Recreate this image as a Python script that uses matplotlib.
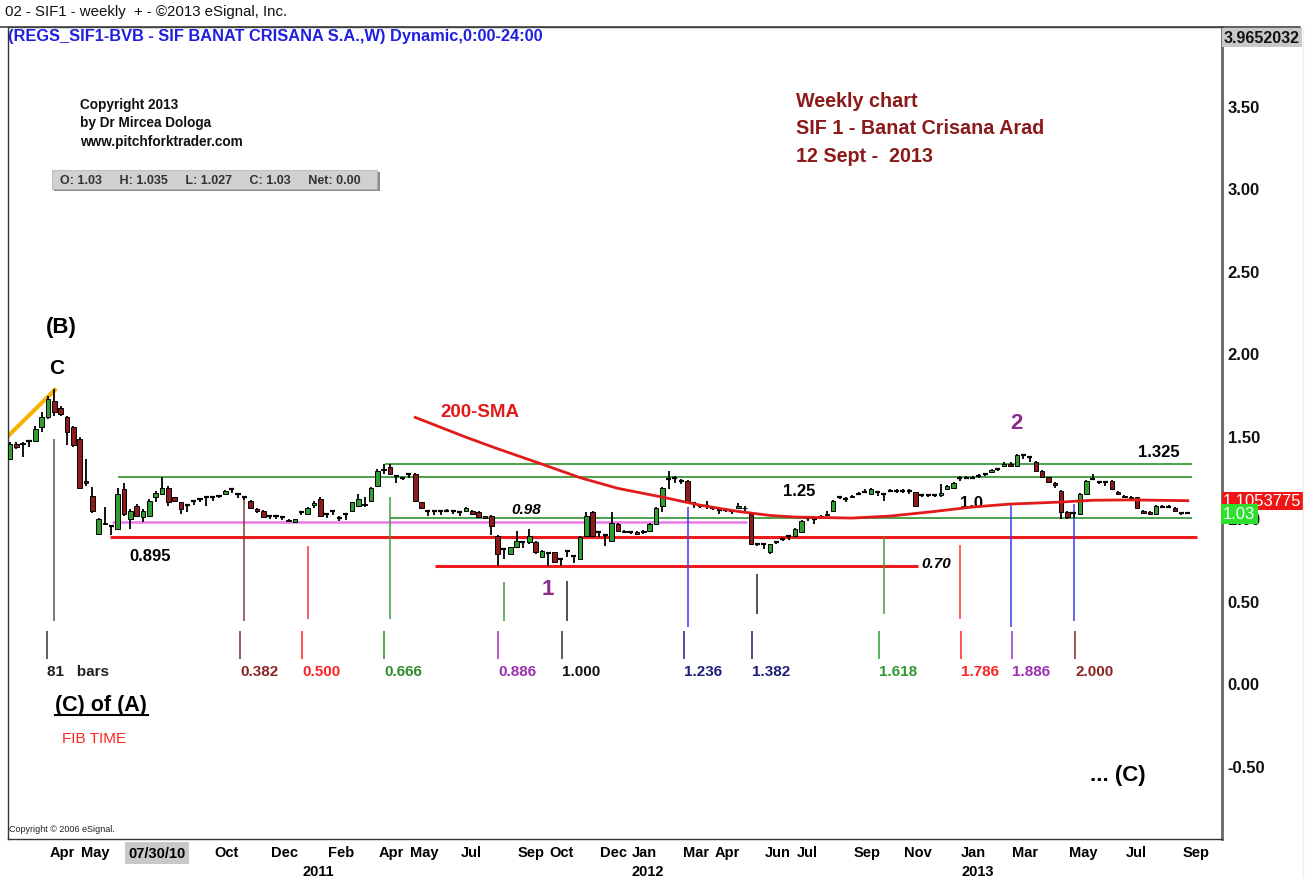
import matplotlib
matplotlib.use('Agg')
import matplotlib.pyplot as plt
import numpy as np
import pandas as pd
from matplotlib.patches import Rectangle
from matplotlib.lines import Line2D

plt.rcParams['font.family'] = ['Liberation Sans', 'DejaVu Sans']

# ---------------- data ----------------
first_week = '2010-02-19'   # weekly bars, week ending Friday
opens = [1.357,1.45,1.455,1.465,1.468,1.549,1.61,1.71,1.67,1.61,1.55,1.48,1.225,1.135,0.903,0.97,0.95,0.933,1.175,0.994,
         1.075,1.004,1.014,1.125,1.145,1.185,1.125,1.095,1.08,1.105,1.115,1.125,1.125,1.135,1.145,1.175,1.145,1.125,1.105,1.054,
         1.044,1.014,1.014,1.004,0.99,0.974,1.034,1.024,1.08,1.115,1.024,1.044,1.0,1.024,1.044,1.074,1.085,1.105,1.196,1.29,
         1.307,1.255,1.245,1.265,1.266,1.095,1.04,1.04,1.04,1.045,1.04,1.034,1.044,1.044,1.034,1.01,1.014,0.893,0.81,0.782,
         0.822,0.852,0.852,0.852,0.762,0.79,0.792,0.75,0.80,0.77,0.751,0.893,1.034,0.913,0.90,0.862,0.963,0.923,0.913,0.915,
         0.913,0.923,0.963,1.074,1.236,1.24,1.225,1.225,1.09,1.075,1.075,1.064,1.05,1.05,1.04,1.064,1.064,1.024,0.845,0.84,
         0.792,0.855,0.872,0.89,0.893,0.913,1.0,0.995,1.005,1.02,1.044,1.125,1.115,1.13,1.145,1.16,1.145,1.155,1.145,1.165,
         1.165,1.165,1.165,1.155,1.14,1.14,1.14,1.14,1.175,1.185,1.24,1.245,1.245,1.255,1.265,1.28,1.296,1.316,1.33,1.313,
         1.38,1.37,1.337,1.286,1.246,1.21,1.165,1.034,1.03,1.024,1.145,1.236,1.22,1.22,1.226,1.16,1.135,1.125,1.125,1.04,
         1.034,1.024,1.07,1.07,1.064,1.03,1.03]
highs = [1.46,1.46,1.46,1.47,1.56,1.64,1.74,1.78,1.68,1.62,1.56,1.49,1.36,1.19,1.0,1.065,0.955,1.185,1.215,1.055,
         1.085,1.055,1.115,1.165,1.246,1.195,1.13,1.10,1.085,1.11,1.12,1.13,1.13,1.14,1.17,1.185,1.15,1.135,1.11,1.06,
         1.05,1.02,1.02,1.01,0.995,0.995,1.04,1.07,1.105,1.125,1.03,1.05,1.014,1.03,1.10,1.145,1.13,1.19,1.30,1.33,
         1.33,1.26,1.25,1.27,1.275,1.10,1.045,1.045,1.045,1.055,1.045,1.04,1.07,1.05,1.04,1.015,1.02,0.90,0.815,0.825,
         0.923,0.86,0.933,0.86,0.805,0.795,0.795,0.755,0.805,0.775,0.89,1.034,1.044,0.92,0.905,1.034,0.97,0.925,0.92,0.92,
         0.93,0.97,1.07,1.19,1.286,1.256,1.236,1.23,1.095,1.08,1.105,1.07,1.055,1.055,1.045,1.09,1.075,1.03,0.85,0.845,
         0.845,0.862,0.88,0.90,0.94,0.99,1.01,1.004,1.02,1.04,1.11,1.135,1.125,1.14,1.155,1.175,1.18,1.16,1.15,1.175,
         1.175,1.175,1.175,1.16,1.145,1.145,1.145,1.205,1.20,1.22,1.256,1.256,1.256,1.266,1.276,1.296,1.306,1.337,1.34,1.39,
         1.387,1.377,1.345,1.29,1.25,1.216,1.17,1.04,1.034,1.15,1.23,1.266,1.226,1.226,1.23,1.165,1.14,1.135,1.13,1.05,
         1.04,1.08,1.08,1.08,1.07,1.035,1.035]
lows = [1.35,1.42,1.37,1.43,1.46,1.52,1.60,1.62,1.62,1.44,1.43,1.18,1.195,1.03,0.895,0.955,0.895,0.93,1.015,0.933,
        1.004,0.974,1.01,1.10,1.14,1.075,1.10,1.024,1.035,1.08,1.095,1.075,1.105,1.12,1.14,1.15,1.12,1.11,1.06,1.03,
        1.0,0.995,0.995,0.99,0.975,0.97,1.02,1.02,1.064,1.005,1.0,1.02,0.98,0.99,1.04,1.07,1.07,1.10,1.19,1.27,
        1.26,1.215,1.23,1.24,1.10,1.06,1.01,1.02,1.02,1.035,1.024,1.014,1.04,1.02,1.0,0.995,0.90,0.71,0.75,0.78,
        0.82,0.82,0.845,0.785,0.755,0.71,0.725,0.71,0.762,0.73,0.745,0.89,0.89,0.883,0.832,0.855,0.92,0.91,0.905,0.90,
        0.905,0.92,0.96,1.034,1.175,1.215,1.205,1.09,1.064,1.06,1.054,1.05,1.024,1.034,1.024,1.06,1.04,0.835,0.832,0.812,
        0.785,0.842,0.86,0.87,0.885,0.91,0.98,0.963,1.0,1.015,1.04,1.115,1.10,1.12,1.14,1.155,1.14,1.135,1.105,1.155,
        1.15,1.15,1.145,1.07,1.125,1.125,1.125,1.125,1.17,1.18,1.225,1.236,1.236,1.245,1.255,1.276,1.285,1.31,1.31,1.31,
        1.357,1.337,1.28,1.24,1.21,1.185,0.994,0.995,1.0,1.02,1.14,1.23,1.205,1.196,1.17,1.14,1.12,1.11,1.06,1.024,
        1.02,1.02,1.06,1.06,1.035,1.02,1.027]
closes = [1.448,1.43,1.45,1.465,1.539,1.61,1.72,1.64,1.63,1.52,1.44,1.185,1.21,1.044,0.994,0.962,0.95,1.145,1.024,1.044,
          1.014,1.044,1.105,1.15,1.185,1.095,1.105,1.054,1.08,1.105,1.115,1.125,1.125,1.135,1.165,1.175,1.145,1.125,1.064,1.04,
          1.004,1.014,1.014,1.004,0.984,0.994,1.034,1.064,1.09,1.014,1.024,1.044,1.0,1.024,1.095,1.115,1.08,1.185,1.286,1.30,
          1.266,1.255,1.245,1.265,1.105,1.064,1.04,1.04,1.04,1.045,1.04,1.034,1.064,1.024,1.004,1.0,0.953,0.782,0.81,0.822,
          0.862,0.852,0.893,0.792,0.802,0.79,0.731,0.75,0.80,0.77,0.883,1.014,0.893,0.913,0.90,0.973,0.923,0.913,0.913,0.905,
          0.923,0.963,1.064,1.185,1.236,1.24,1.225,1.095,1.09,1.075,1.075,1.064,1.05,1.05,1.04,1.075,1.06,0.842,0.845,0.84,
          0.842,0.855,0.872,0.89,0.933,0.983,1.0,0.995,1.014,1.026,1.105,1.125,1.115,1.135,1.145,1.16,1.175,1.155,1.145,1.165,
          1.165,1.165,1.165,1.075,1.14,1.14,1.14,1.15,1.195,1.215,1.24,1.245,1.245,1.255,1.265,1.29,1.296,1.33,1.316,1.381,
          1.38,1.37,1.286,1.246,1.216,1.20,1.034,1.004,1.03,1.145,1.226,1.236,1.22,1.22,1.175,1.145,1.13,1.12,1.064,1.03,
          1.024,1.074,1.07,1.07,1.04,1.03,1.03]

# 200-week SMA read at selected bars
sma_bars = [64, 68, 72, 77, 84, 90, 96, 103, 109, 115, 120, 124, 133, 139, 146, 152, 158, 166, 171, 177, 186]
sma_vals = [1.61, 1.55, 1.49, 1.42, 1.327, 1.245, 1.18, 1.127, 1.078, 1.04, 1.016, 1.006, 1.0, 1.012, 1.04, 1.067,
            1.085, 1.097, 1.108, 1.11, 1.1053775]

# horizontal price levels
level_prices = [1.248, 1.327, 1.003, 0.978, 0.887, 0.707]
level_from = [17, 59.2, 60, 16.1, 15.8, 67.1]
level_to = [186.6, 186.6, 186.6, 116.4, 187.4, 143.4]
level_colors = ['#3E9B3E', '#3E9B3E', '#3E9B3E', '#E87BE8', '#EE1C1C', '#EE1C1C']
level_widths = [1.3, 1.3, 1.3, 1.8, 2.2, 2.2]

# Fibonacci time
fib_labels = ['81   bars', '0.382', '0.500', '0.666', '0.886', '1.000', '1.236', '1.382', '1.618', '1.786', '1.886', '2.000']
fib_line_bar = [7, 37, 47, 60, 78, 88, 107, 118, 138, 150, 158, 168]
fib_line_top = [1.48, 1.13, 0.83, 1.13, 0.61, 0.62, 1.07, 0.66, 0.885, 0.835, 1.085, 1.085]
fib_line_bottom = [0.376, 0.376, 0.388, 0.388, 0.376, 0.376, 0.339, 0.418, 0.418, 0.388, 0.339, 0.376]
fib_line_colors = ['#555555', '#8B3A3A', '#FF3333', '#3E9B3E', '#3E9B3E', '#222222', '#3A3AEE', '#222222',
                   '#3E9B3E', '#FF3333', '#3A3AEE', '#3A3AEE']
fib_tick_bar = [5.9, 36.3, 46.1, 59.1, 77.1, 87.2, 106.4, 117.2, 137.2, 150.2, 158.2, 168.2]
fib_text_colors = ['#222222', '#8B2323', '#FF2222', '#2E8B2E', '#9B30B0', '#111111', '#1F1F7A', '#1F1F7A',
                   '#2E9A2E', '#FF2222', '#9B30B0', '#8B2323']

# axis labels
tick_years = [2010, 2010, 2010, 2010, 2011, 2011, 2011, 2011, 2011, 2011, 2011, 2012, 2012, 2012, 2012, 2012, 2012,
              2012, 2013, 2013, 2013, 2013, 2013]
tick_months = [4, 5, 10, 12, 2, 4, 5, 7, 9, 10, 12, 1, 3, 4, 6, 7, 9, 11, 1, 3, 5, 7, 9]
tick_names = ['Apr', 'May', 'Oct', 'Dec', 'Feb', 'Apr', 'May', 'Jul', 'Sep', 'Oct', 'Dec', 'Jan', 'Mar', 'Apr', 'Jun',
              'Jul', 'Sep', 'Nov', 'Jan', 'Mar', 'May', 'Jul', 'Sep']
year_labels = [2011, 2012, 2013]
cursor_date = '2010-07-30'
price_ticks = [3.5, 3.0, 2.5, 2.0, 1.5, 1.0, 0.5, 0.0, -0.5]
top_price = 3.9652032
last_sma = 1.1053775
last_close = 1.03

# ---------------- figure ----------------
W, H = 1316, 879
fig = plt.figure(figsize=(W / 100, H / 100), dpi=100)
fig.patch.set_facecolor('white')
ax = fig.add_axes([8 / W, 1 - 840 / H, (1222 - 8) / W, (840 - 28) / H])
ax.set_xlim(-0.32, 191.4)
ax.set_ylim(-0.945, 3.976)

def fx(px):
    return px / W

def fy(py):
    return 1 - py / H

dates = pd.date_range(first_week, periods=len(opens), freq='W-FRI')
x = np.arange(len(opens))
o = np.array(opens); h = np.array(highs); l = np.array(lows); c = np.array(closes)

# levels
for p, a, b, col, lw in zip(level_prices, level_from, level_to, level_colors, level_widths):
    ax.hlines(p, a, b, color=col, lw=lw, zorder=2)

# orange trend line into C high
ax.plot([x[0] - 0.5, x[7] + 0.3], [l[0] + 0.14, h[7] + 0.005], color='#F6B400', lw=3, zorder=2,
        solid_capstyle='butt')

# fib time lines
for b, t, bt, col in zip(fib_line_bar, fib_line_top, fib_line_bottom, fib_line_colors):
    ax.vlines(b, bt, t, color=col, lw=1.1, zorder=2)
for b, col in zip(fib_tick_bar, fib_text_colors):
    ax.vlines(b, 0.145, 0.315, color=col if col not in ('#111111', '#222222') else '#333333', lw=1.1, zorder=2)
for b, txt, col in zip(fib_tick_bar, fib_labels, fib_text_colors):
    ax.text(b, 0.073, txt, color=col, fontsize=11, fontweight='bold', ha='left', va='center')

# candles
ax.vlines(x, l, h, color='black', lw=1.3, zorder=3)
up = c > o
dn = c < o
dj = c == o
ax.bar(x[up], (c - o)[up], bottom=o[up], width=0.72, color='#2FA02F', edgecolor='black', lw=0.7, zorder=4)
ax.bar(x[dn], (o - c)[dn], bottom=c[dn], width=0.72, color='#8E1B1B', edgecolor='black', lw=0.7, zorder=4)
ax.hlines(o[dj], x[dj] - 0.4, x[dj] + 0.4, color='black', lw=1.6, zorder=4)

# SMA
ax.plot(sma_bars, sma_vals, color='#E31A1A', lw=2.0, zorder=5)

# annotations (data coords)
ax.text(5.7, 2.158, '(B)', fontsize=16, fontweight='bold', ha='left', va='center')
ax.text(7.3, 1.915, 'C', fontsize=15, fontweight='bold', ha='center', va='center')
ax.text(67.9, 1.648, '200-SMA', fontsize=13.5, fontweight='bold', color='#E31A1A', ha='left', va='center')
ax.text(79.1, 1.055, '0.98', fontsize=11, fontweight='bold', style='italic', ha='left', va='center')
ax.text(85.0, 0.576, '1', fontsize=16, fontweight='bold', color='#8B2A8B', ha='center', va='center')
ax.text(122.0, 1.164, '1.25', fontsize=12, fontweight='bold', ha='left', va='center')
ax.text(150.0, 1.097, '1.0', fontsize=12, fontweight='bold', ha='left', va='center')
ax.text(158.9, 1.582, '2', fontsize=16, fontweight='bold', color='#8B2A8B', ha='center', va='center')
ax.text(178.1, 1.406, '1.325', fontsize=12, fontweight='bold', ha='left', va='center')
ax.text(18.9, 0.776, '0.895', fontsize=12, fontweight='bold', ha='left', va='center')
ax.text(144.0, 0.727, '0.70', fontsize=11, fontweight='bold', style='italic', ha='left', va='center')
ax.text(7.1, -0.127, '(C) of (A)', fontsize=15.5, fontweight='bold', ha='left', va='center')
ax.text(8.2, -0.333, 'FIB TIME', fontsize=11, color='#FF2222', ha='left', va='center')
ax.text(170.5, -0.552, '... (C)', fontsize=16, fontweight='bold', ha='left', va='center')
# underline for "(C) of (A)"
fig.add_artist(Line2D([fx(55), fx(148)], [fy(716), fy(716)], color='black', lw=1.5))

# axes styling
for side in ('left', 'top', 'bottom'):
    ax.spines[side].set_color('#333333')
    ax.spines[side].set_linewidth(1.0)
ax.spines['right'].set_color('#666666')
ax.spines['right'].set_linewidth(2.0)
ax.set_xticks([])
ax.yaxis.tick_right()
ax.set_yticks(price_ticks)
ax.set_yticklabels(['%.2f' % v for v in price_ticks])
ax.tick_params(axis='y', length=0, pad=4, labelsize=12)
for lab in ax.get_yticklabels():
    lab.set_fontweight('bold')
    lab.set_color('#111111')

# month / year labels
xt = ax.get_xaxis_transform()
for yy, mm, nm in zip(tick_years, tick_months, tick_names):
    idx = np.where((dates.year == yy) & (dates.month == mm))[0][0]
    ax.text(idx + 0.2, -0.008, nm, transform=xt, ha='left', va='top', fontsize=10.5, fontweight='bold',
            clip_on=False)
for yy in year_labels:
    idx = np.where(dates.year == yy)[0][0]
    ax.text(idx + 0.2, -0.031, str(yy), transform=xt, ha='left', va='top', fontsize=10.5, fontweight='bold',
            clip_on=False)
cidx = int(np.where(dates == pd.Timestamp(cursor_date))[0][0])
ax.text(cidx + 0.2, -0.0085, pd.Timestamp(cursor_date).strftime('%m/%d/%y'), transform=xt, ha='center', va='top',
        fontsize=10.5, fontweight='bold', clip_on=False,
        bbox=dict(boxstyle='square,pad=0.25', facecolor='#C8C8C8', edgecolor='none'))

# price boxes on the right axis
yt = ax.get_yaxis_transform()
ax.text(1.0015, top_price - 0.055, '%.7f' % top_price, transform=yt, ha='left', va='center', fontsize=11.5,
        fontweight='bold', color='#111111', clip_on=False,
        bbox=dict(boxstyle='square,pad=0.12', facecolor='#C8C8C8', edgecolor='none'))
ax.text(1.001, last_sma, '%.7f' % last_sma, transform=yt, ha='left', va='center', fontsize=12,
        color='white', clip_on=False, zorder=10,
        bbox=dict(boxstyle='square,pad=0.1', facecolor='#F01515', edgecolor='none'))
ax.text(1.001, last_close - 0.005, '%.2f' % last_close, transform=yt, ha='left', va='center', fontsize=12,
        color='white', clip_on=False, zorder=11,
        bbox=dict(boxstyle='square,pad=0.15', facecolor='#2EE02E', edgecolor='none'))

# frame extensions
fig.add_artist(Line2D([fx(0), fx(1300)], [fy(28), fy(28)], color='#444444', lw=1.2))
fig.add_artist(Line2D([fx(1303), fx(1303)], [fy(28), fy(879)], color='#EEEEEE', lw=1.0))

# header texts
fig.text(fx(5), fy(12), '02 - SIF1 - weekly  + - \u00a92013 eSignal, Inc.', fontsize=10.8, ha='left', va='center',
         color='#111111')
fig.text(fx(8), fy(37), '(REGS_SIF1-BVB - SIF BANAT CRISANA S.A.,W) Dynamic,0:00-24:00', fontsize=11.8,
         fontweight='bold', color='#1F1FE0', ha='left', va='center')
for i, line in enumerate(['Copyright 2013', 'by Dr Mircea Dologa', 'www.pitchforktrader.com']):
    fig.text(fx(80), fy(105 + 18.5 * i), line, fontsize=9.8, fontweight='bold', ha='left', va='center',
             color='#111111')

# OHLC box
fig.add_artist(Rectangle((fx(54), fy(192)), fx(380) - fx(54), fy(173) - fy(192), facecolor='#8A8A8A',
                         edgecolor='none'))
fig.add_artist(Rectangle((fx(52), fy(190)), fx(377) - fx(52), fy(171) - fy(190), facecolor='#D0D0D0',
                         edgecolor='#B0B0B0', lw=0.5))
fig.text(fx(60), fy(181), 'O: 1.03     H: 1.035     L: 1.027     C: 1.03     Net: 0.00', fontsize=9,
         fontweight='bold', color='#333333', ha='left', va='center')

for i, line in enumerate(['Weekly chart', 'SIF 1 - Banat Crisana Arad', '12 Sept -  2013']):
    fig.text(fx(796), fy(102 + 27 * i), line, fontsize=14.2, fontweight='bold', color='#8B1A1A', ha='left',
             va='center')

fig.text(fx(9), fy(830), 'Copyright \u00a9 2006 eSignal.', fontsize=6.5, ha='left', va='center', color='#222222')

fig.savefig('out.png', dpi=100)
